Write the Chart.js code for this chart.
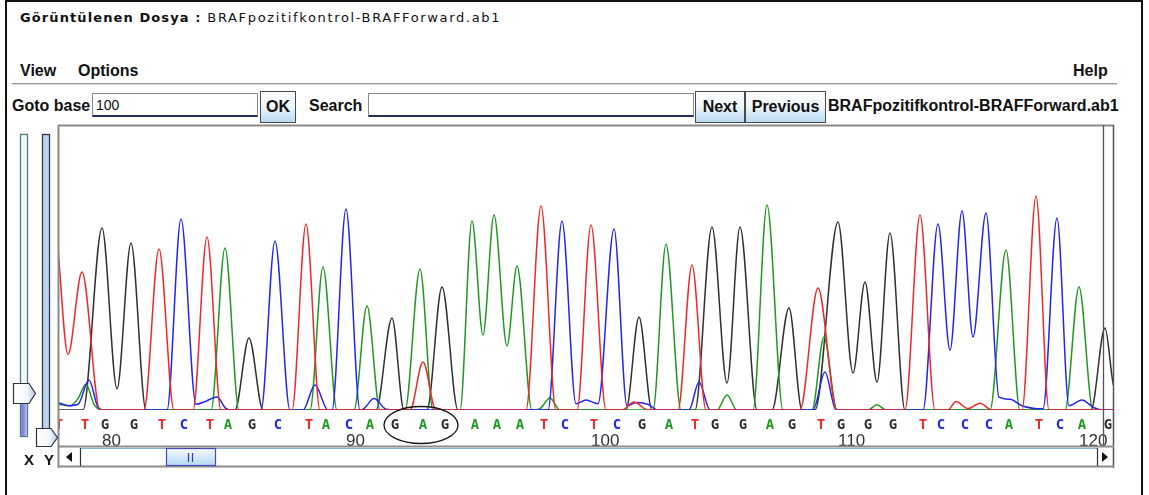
<!DOCTYPE html>
<html>
<head>
<meta charset="utf-8">
<script src="https://cdn.jsdelivr.net/npm/chart.js@4/dist/chart.umd.min.js"></script>
<style>
body { margin: 0; width: 1149px; height: 495px; overflow: hidden; position: relative; background: #fff; font-family: "Liberation Sans", Arial, sans-serif; color: #111; }
.abs { position: absolute; }
.outer { left: 5px; top: 0; width: 1134px; height: 500px; border: 2px solid #111; border-bottom: none; }
.title { left: 20px; top: 10px; font: 13px "DejaVu Sans", sans-serif; letter-spacing: 1.65px; line-height: 16px; white-space: nowrap; }
.title b { letter-spacing: 1.1px; }
.menu { top: 62px; font-weight: bold; font-size: 16px; line-height: 18px; }
.sep { left: 12px; top: 83px; width: 1105px; height: 1px; background: #9a9a9a; border-bottom: 1px solid #d8d8d8; }
.lbl { top: 97px; font-weight: bold; font-size: 16px; line-height: 18px; white-space: nowrap; }
.field { top: 93px; height: 24px; background: #fff; border: 1px solid #8a8a8a; border-bottom: 2px solid #26305a; box-sizing: border-box; font-size: 14px; line-height: 22px; padding-left: 3px; }
.btn { top: 91px; height: 32px; box-sizing: border-box; border: 1px solid #4a4a4a; background: linear-gradient(#fdfdfd 0%, #f2f7fb 45%, #b9daf4 100%); font-weight: bold; font-size: 16px; line-height: 30px; text-align: center; }
#plot { left: 58px; top: 125px; }
.axisname { top: 452px; font-weight: bold; font-size: 15px; line-height: 16px; }
</style>
</head>
<body>
<div class="abs outer"></div>
<div class="abs title"><b>Görüntülenen Dosya :</b> BRAFpozitifkontrol-BRAFForward.ab1</div>
<div class="abs menu" style="left:20px">View</div>
<div class="abs menu" style="left:78px">Options</div>
<div class="abs menu" style="left:1073px">Help</div>
<div class="abs sep"></div>

<div class="abs lbl" style="left:12px">Goto base</div>
<div class="abs field" style="left:92px;width:166px">100</div>
<div class="abs btn" style="left:260px;width:36px">OK</div>
<div class="abs lbl" style="left:309px">Search</div>
<div class="abs field" style="left:368px;width:326px"></div>
<div class="abs btn" style="left:695px;width:50px">Next</div>
<div class="abs btn" style="left:745px;width:81px">Previous</div>
<div class="abs lbl" style="left:828px">BRAFpozitifkontrol-BRAFForward.ab1</div>

<canvas id="plot" class="abs" width="1056" height="322"></canvas>

<svg class="abs" style="left:0;top:0" width="1149" height="495">
  <defs>
    <linearGradient id="fillX" x1="0" y1="0" x2="1" y2="0">
      <stop offset="0" stop-color="#6f6fd6"/><stop offset="1" stop-color="#b4b4f2"/>
    </linearGradient>
    <linearGradient id="thumb" x1="0" y1="0" x2="1" y2="0">
      <stop offset="0" stop-color="#ffffff"/><stop offset="0.6" stop-color="#f4f8fc"/><stop offset="1" stop-color="#a9cdea"/>
    </linearGradient>
    <linearGradient id="knob" x1="0" y1="0" x2="0" y2="1">
      <stop offset="0" stop-color="#f4faff"/><stop offset="1" stop-color="#b6d8f2"/>
    </linearGradient>
  </defs>
  <!-- plot frame -->
  <line x1="58" y1="125.5" x2="1114" y2="125.5" stroke="#8a8a8a" stroke-width="2"/>
  <line x1="58.5" y1="125" x2="58.5" y2="468" stroke="#8a8a8a" stroke-width="2"/>
  <line x1="1103.5" y1="125" x2="1103.5" y2="447" stroke="#555" stroke-width="1.3"/>
  <line x1="1113.5" y1="125" x2="1113.5" y2="468" stroke="#555" stroke-width="1.5"/>
  <line x1="58" y1="446.5" x2="1114" y2="446.5" stroke="#8c8c8c" stroke-width="2"/>
  <line x1="80" y1="448.5" x2="1097" y2="448.5" stroke="#86b2d8" stroke-width="1"/>
  <line x1="58" y1="466.5" x2="1114" y2="466.5" stroke="#8c8c8c" stroke-width="2"/>
  <!-- horizontal scroll bar -->
  <line x1="80.5" y1="448" x2="80.5" y2="466" stroke="#333" stroke-width="1.2"/>
  <line x1="1097.5" y1="448" x2="1097.5" y2="466" stroke="#333" stroke-width="1.2"/>
  <polygon points="66,457 72,452 72,462" fill="#111"/>
  <polygon points="1108,457 1102,452 1102,462" fill="#111"/>
  <rect x="166.5" y="448.5" width="49" height="17" fill="url(#knob)" stroke="#4646c4" stroke-width="1.2"/>
  <line x1="188.5" y1="453" x2="188.5" y2="462" stroke="#3a3ab0" stroke-width="1.2"/>
  <line x1="192.5" y1="453" x2="192.5" y2="462" stroke="#3a3ab0" stroke-width="1.2"/>
  <!-- X zoom slider -->
  <rect x="20.5" y="134.5" width="7" height="302" fill="#f3f7f7" stroke="#4f7c7c" stroke-width="1.3"/>
  <rect x="21.2" y="404" width="5.6" height="32" fill="url(#fillX)"/>
  <polygon points="13.5,383.5 29,383.5 35.5,393.5 29,403.5 13.5,403.5" fill="url(#thumb)" stroke="#333" stroke-width="1.2"/>
  <!-- Y zoom slider -->
  <rect x="42.5" y="134.5" width="7" height="310" fill="#bcd6ee" stroke="#2f3552" stroke-width="1.3"/>
  <polygon points="36.5,428.5 51,428.5 57.5,437.5 51,446.5 36.5,446.5" fill="url(#thumb)" stroke="#333" stroke-width="1.2"/>
</svg>
<div class="abs axisname" style="left:24px">X</div>
<div class="abs axisname" style="left:44px">Y</div>

<script>
// base calls shown in the window, first one is base 78
const sequence = "TTGGTCTAGCTACAGAGAAATCTCGATGGAGTGGGTCCCATCAG";
const firstBaseNumber = 78;
// peak location (scan) of every called base
const peakLocations = [-2, 24, 44, 73, 101, 123, 149, 167, 191, 217, 248, 265, 288, 309, 334, 362,
  384, 414, 436, 459, 483, 504, 533, 556, 581, 608, 634, 654, 682, 709, 731, 760, 780, 807, 832,
  862, 880, 904, 928, 948, 978, 999, 1021, 1047];
const tickBaseNumbers = [80, 90, 100, 110, 120];
const markedCodon = [92, 94];   // GAG circled
const scanWindow = [0, 1056];
const signalMax = 1000;

// traces: [scan, signal]
const traceT = [[-16, 150], [-4, 660], [10, 195], [24, 484], [42, 0], [86, 0], [101, 565], [116, 0],
  [135, 0], [149, 607], [163, 0], [234, 0], [248, 653], [262, 0], [352, 0], [365, 168], [378, 0],
  [468, 0], [483, 716], [498, 0], [519, 0], [533, 649], [548, 0], [564, 0], [576, 28], [590, 0],
  [620, 0], [634, 509], [648, 0], [742, 0], [760, 428], [779, 0], [847, 0], [862, 684], [877, 0],
  [890, 0], [898, 30], [910, 5], [922, 24], [934, 0], [964, 0], [978, 751], [991, 0], [1070, 0]];
const traceC = [[-10, 20], [0, 25], [10, 15], [20, 20], [31, 105], [40, 10], [46, 0], [109, 0],
  [123, 670], [138, 20], [146, 28], [159, 46], [168, 5], [175, 0], [203, 0], [217, 593], [232, 0],
  [245, 0], [257, 88], [270, 0], [274, 0], [288, 705], [302, 0], [306, 5], [316, 40], [328, 3],
  [340, 0], [490, 0], [504, 663], [518, 22], [528, 35], [540, 22], [556, 635], [569, 15], [579, 26],
  [590, 20], [600, 0], [631, 0], [641, 98], [652, 0], [755, 0], [767, 133], [778, 0], [865, 0],
  [880, 653], [892, 210], [904, 698], [915, 256], [928, 691], [941, 45], [952, 38], [964, 15],
  [985, 4], [999, 674], [1011, 15], [1024, 35], [1036, 8], [1046, 0], [1070, 0]];
const traceA = [[-10, 20], [0, 20], [12, 15], [20, 40], [28, 90], [36, 20], [44, 0], [153, 0],
  [167, 568], [181, 0], [252, 0], [265, 502], [279, 0], [296, 0], [309, 365], [322, 0], [347, 0],
  [362, 495], [375, 0], [402, 0], [414, 663], [425, 263], [436, 684], [449, 225], [459, 505],
  [474, 0], [482, 5], [492, 42], [502, 0], [595, 0], [608, 582], [623, 0], [659, 0], [669, 53],
  [679, 0], [695, 0], [709, 719], [725, 0], [754, 0], [766, 256], [779, 0], [810, 0], [819, 18],
  [828, 0], [932, 0], [948, 561], [962, 0], [1007, 0], [1021, 432], [1035, 0], [1070, 0]];
const traceG = [[-10, 0], [25, 0], [44, 639], [59, 75], [73, 586], [88, 0], [177, 0], [191, 253],
  [205, 0], [318, 0], [334, 323], [346, 0], [369, 0], [384, 432], [400, 0], [568, 0], [581, 326],
  [594, 0], [637, 0], [654, 642], [669, 95], [682, 642], [699, 0], [714, 0], [731, 358], [744, 0],
  [757, 0], [780, 660], [795, 130], [807, 449], [819, 98], [832, 621], [847, 0], [1033, 0],
  [1047, 288], [1055, 95], [1064, 0]];

const baseColors = { A: "#1f9a1f", C: "#2525f0", G: "#303030", T: "#f02828" };

function toPoints(trace) {
  return trace.map(p => ({ x: p[0], y: p[1] }));
}

// letters under the traces + the circled codon
const baseCallPlugin = {
  id: "baseCalls",
  afterDatasetsDraw(chart) {
    const { ctx, chartArea, scales } = chart;
    const x = scales.x;
    const y = chartArea.bottom + 15;
    ctx.save();
    ctx.font = 'bold 14px "DejaVu Sans Mono", monospace';
    ctx.textAlign = "center";
    ctx.textBaseline = "middle";
    for (let i = 0; i < sequence.length; i++) {
      ctx.fillStyle = baseColors[sequence[i]];
      ctx.fillText(sequence[i], x.getPixelForValue(peakLocations[i]) + 3, y);
    }
    const x0 = x.getPixelForValue(peakLocations[markedCodon[0] - firstBaseNumber]);
    const x1 = x.getPixelForValue(peakLocations[markedCodon[1] - firstBaseNumber]);
    ctx.beginPath();
    ctx.ellipse((x0 + x1) / 2 + 4, y, (x1 - x0) / 2 + 12, 18.5, 0, 0, Math.PI * 2);
    ctx.strokeStyle = "#151515";
    ctx.lineWidth = 1.3;
    ctx.stroke();
    ctx.restore();
  }
};

const ctx = document.getElementById("plot").getContext("2d");
const chart = new Chart(ctx, {
  type: "line",
  data: {
    datasets: [
      { label: "T", data: toPoints(traceT), borderColor: baseColors.T },
      { label: "C", data: toPoints(traceC), borderColor: baseColors.C },
      { label: "A", data: toPoints(traceA), borderColor: baseColors.A },
      { label: "G", data: toPoints(traceG), borderColor: baseColors.G }
    ]
  },
  options: {
    responsive: false,
    animation: false,
    layout: { padding: 0 },
    elements: {
      point: { radius: 0 },
      line: { borderWidth: 1.5, cubicInterpolationMode: "monotone", fill: false }
    },
    plugins: { legend: { display: false }, tooltip: { enabled: false } },
    scales: {
      x: {
        type: "linear",
        min: scanWindow[0],
        max: scanWindow[1],
        grid: { display: false, drawTicks: false },
        border: { display: false },
        afterBuildTicks: scale => {
          scale.ticks = tickBaseNumbers.map(n => ({ value: peakLocations[n - firstBaseNumber] }));
        },
        afterFit: scale => {
          scale.height = 37;
          scale.paddingLeft = 0;
          scale.paddingRight = 0;
        },
        ticks: {
          align: "start",
          padding: 21,
          autoSkip: false,
          maxRotation: 0,
          color: "#333",
          font: { family: '"Liberation Sans Narrow", "Liberation Sans", sans-serif', size: 17 },
          callback: (value, index) => tickBaseNumbers[index]
        }
      },
      y: { display: false, min: 0, max: signalMax }
    }
  },
  plugins: [baseCallPlugin]
});
</script>
</body>
</html>
